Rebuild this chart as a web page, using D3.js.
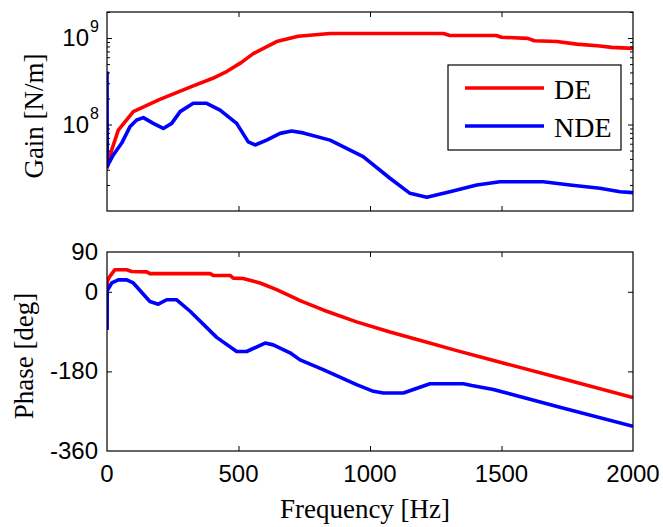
<!DOCTYPE html>
<html>
<head>
<meta charset="utf-8">
<script src="https://cdn.jsdelivr.net/npm/d3@7"></script>
<style>
  body { margin: 0; background: #fff; }
  .tick line { stroke: #000; stroke-width: 1; }
  .num { font-family: "Liberation Sans", Arial, sans-serif; font-size: 24px; }
  .lbl { font-family: "Liberation Serif", "Times New Roman", serif; font-size: 27px; }
</style>
</head>
<body>
<svg id="chart" width="663" height="527"></svg>
<script>
// gain, DE bearing
var gainDeFreq = [0, 18, 43, 100, 201, 328, 400, 455, 510, 556, 645, 727, 848, 1279, 1304, 1480, 1500, 1600, 1625, 1710, 1786, 1874, 1919, 2000];
var gainDe = [3.1e7, 5.1e7, 8.6e7, 1.41e8, 1.95e8, 2.8e8, 3.4e8, 4.1e8, 5.2e8, 6.6e8, 9.1e8, 1.05e9, 1.13e9, 1.13e9, 1.07e9, 1.07e9, 1.02e9, 0.99e9, 0.93e9, 0.91e9, 0.85e9, 0.81e9, 0.78e9, 0.76e9];

// gain, NDE bearing
var gainNdeFreq = [0, 1, 24, 56, 87, 113, 138, 176, 214, 246, 278, 328, 379, 430, 493, 537, 563, 607, 658, 702, 746, 848, 974, 1076, 1152, 1216, 1304, 1406, 1494, 1659, 1760, 1874, 1951, 2000];
var gainNde = [4.1e8, 3.3e7, 4.45e7, 6.1e7, 9.4e7, 1.13e8, 1.2e8, 1.03e8, 9.0e7, 1.03e8, 1.41e8, 1.76e8, 1.76e8, 1.47e8, 1.03e8, 6.3e7, 5.8e7, 6.6e7, 7.9e7, 8.4e7, 8.0e7, 6.6e7, 4.25e7, 2.39e7, 1.6e7, 1.44e7, 1.67e7, 2.0e7, 2.18e7, 2.18e7, 2.0e7, 1.83e7, 1.67e7, 1.63e7];

// phase, DE bearing
var phaseDeFreq = [0, 1, 11, 30, 75, 94, 151, 163, 392, 404, 468, 480, 518, 582, 645, 696, 734, 822, 949, 1076, 1203, 1330, 1456, 1722, 2000];
var phaseDe = [-86, 24, 35, 50, 50, 46, 45, 41, 41, 37, 37, 31, 30, 20, 5, -9, -20, -41, -68, -91, -112, -133, -153, -195, -239];

// phase, NDE bearing
var phaseNdeFreq = [0, 1, 18, 43, 75, 100, 163, 195, 227, 265, 316, 417, 493, 531, 601, 632, 696, 734, 822, 949, 1013, 1051, 1127, 1165, 1228, 1355, 1387, 1469, 1722, 2000];
var phaseNde = [-86, 3, 20, 27, 27, 20, -22, -28, -18, -18, -44, -103, -135, -135, -116, -120, -138, -154, -176, -210, -225, -229, -229, -221, -208, -208, -212, -221, -261, -304];

var freqTicks = [0, 500, 1000, 1500, 2000];
var gainTicks = [1e8, 1e9];
var phaseTicks = [90, 0, -180, -360];
var seriesNames = ['DE', 'NDE'];
var seriesColors = ['#ff0000', '#0000ff'];

var svg = d3.select('#chart');
svg.append('rect').attr('width', 663).attr('height', 527).attr('fill', '#fff');

var LEFT = 107, RIGHT = 633;
var x = d3.scaleLinear().domain([0, 2000]).range([LEFT, RIGHT]);

var zip = (fs, vs) => fs.map((f, i) => ({ f: f, v: vs[i] }));

var panel = (id, y, series) => {
  var top = y.range()[1], bottom = y.range()[0];

  svg.append('clipPath').attr('id', id)
    .append('rect')
      .attr('x', LEFT).attr('y', top)
      .attr('width', RIGHT - LEFT).attr('height', bottom - top);

  var line = d3.line().x(d => x(d.f)).y(d => y(d.v));

  svg.append('g').attr('clip-path', `url(#${ id })`)
    .selectAll('path')
    .data(series)
    .enter().append('path')
      .attr('d', d => line(d))
      .attr('fill', 'none')
      .attr('stroke', (d, i) => seriesColors[i])
      .attr('stroke-width', 3.6)
      .attr('stroke-linejoin', 'round');

  // inward ticks on all four sides
  var tickAxis = (axis, values, size, transform) => {
    var g = svg.append('g')
      .attr('transform', transform)
      .call(axis.tickValues(values).tickSizeInner(-size).tickSizeOuter(0).tickFormat(''));
    g.select('.domain').remove();
  };
  var fx = freqTicks.slice(1, -1);
  tickAxis(d3.axisBottom(x), fx, 5, `translate(0,${ bottom })`);
  tickAxis(d3.axisTop(x), fx, 5, `translate(0,${ top })`);

  svg.append('rect')
    .attr('x', LEFT).attr('y', top)
    .attr('width', RIGHT - LEFT).attr('height', bottom - top)
    .attr('fill', 'none').attr('stroke', '#000').attr('stroke-width', 1.2);

  return tickAxis;
};

/**
 * gain panel
 */
var yGain = d3.scaleLog().domain([1e7, 2e9]).range([211, 12]);
var tickGain = panel('clip-gain', yGain, [zip(gainDeFreq, gainDe), zip(gainNdeFreq, gainNde)]);

var minor = yGain.ticks().filter(v => gainTicks.indexOf(v) < 0 && v > 1e7);
tickGain(d3.axisLeft(yGain), minor, 3, `translate(${ LEFT },0)`);
tickGain(d3.axisRight(yGain), minor, 3, `translate(${ RIGHT },0)`);
tickGain(d3.axisLeft(yGain), gainTicks, 5, `translate(${ LEFT },0)`);
tickGain(d3.axisRight(yGain), gainTicks, 5, `translate(${ RIGHT },0)`);

svg.append('g').selectAll('text')
  .data(gainTicks)
  .enter().append('text')
    .attr('class', 'num')
    .attr('x', 89)
    .attr('y', d => yGain(d) + 8)
    .attr('text-anchor', 'end')
    .text('10');
svg.append('g').selectAll('text')
  .data(gainTicks)
  .enter().append('text')
    .attr('class', 'num')
    .attr('x', 90)
    .attr('y', d => yGain(d) - 6)
    .style('font-size', '16px')
    .text(d => Math.round(Math.log10(d)));

svg.append('text')
  .attr('class', 'lbl')
  .attr('transform', 'translate(43,116) rotate(-90)')
  .attr('text-anchor', 'middle')
  .text('Gain [N/m]');

/**
 * legend
 */
var legend = svg.append('g');
legend.append('rect')
  .attr('x', 448).attr('y', 65).attr('width', 173).attr('height', 85)
  .attr('fill', '#fff').attr('stroke', '#000').attr('stroke-width', 1.2);
var item = legend.selectAll('g.item')
  .data(seriesNames)
  .enter().append('g')
    .attr('class', 'item')
    .attr('transform', (d, i) => `translate(0,${ 88 + i * 38 })`);
item.append('line')
  .attr('x1', 465).attr('x2', 544)
  .attr('stroke', (d, i) => seriesColors[i])
  .attr('stroke-width', 3.6);
item.append('text')
  .attr('class', 'lbl')
  .attr('x', 554).attr('y', 11)
  .style('font-size', '28px')
  .text(d => d);

/**
 * phase panel
 */
var yPhase = d3.scaleLinear().domain([-360, 90]).range([451, 252]);
var tickPhase = panel('clip-phase', yPhase, [zip(phaseDeFreq, phaseDe), zip(phaseNdeFreq, phaseNde)]);
var py = phaseTicks.slice(1, -1);
tickPhase(d3.axisLeft(yPhase), py, 5, `translate(${ LEFT },0)`);
tickPhase(d3.axisRight(yPhase), py, 5, `translate(${ RIGHT },0)`);

svg.append('g').selectAll('text')
  .data(phaseTicks)
  .enter().append('text')
    .attr('class', 'num')
    .attr('x', 98)
    .attr('y', d => yPhase(d) + 8)
    .attr('text-anchor', 'end')
    .text(d => d);

svg.append('g').selectAll('text')
  .data(freqTicks)
  .enter().append('text')
    .attr('class', 'num')
    .attr('x', d => x(d))
    .attr('y', 482)
    .attr('text-anchor', 'middle')
    .text(d => d);

svg.append('text')
  .attr('class', 'lbl')
  .attr('transform', 'translate(33,356) rotate(-90)')
  .attr('text-anchor', 'middle')
  .text('Phase [deg]');

svg.append('text')
  .attr('class', 'lbl')
  .attr('x', 365).attr('y', 518)
  .attr('text-anchor', 'middle')
  .text('Frequency [Hz]');
</script>
</body>
</html>
